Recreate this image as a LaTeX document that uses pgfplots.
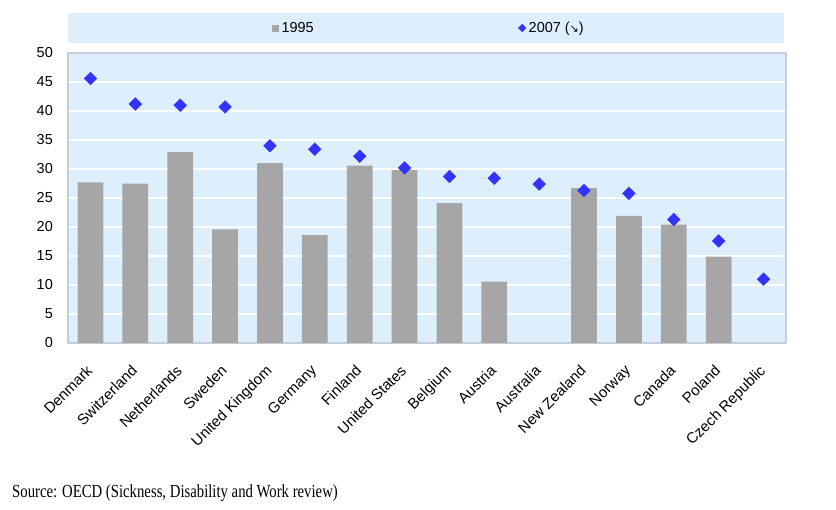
\documentclass[border=0pt]{standalone}
\usepackage{fontspec}
\setmainfont{Liberation Sans}
\newfontfamily\seriffont{Liberation Serif}
\newfontfamily\symfont{DejaVu Sans}
\usepackage{pgfplots}
\pgfplotsset{compat=1.18}
\definecolor{bg}{HTML}{DDEFFC}
\definecolor{bargray}{HTML}{A6A6A6}
\definecolor{diablue}{HTML}{3333FF}
\definecolor{axgray}{HTML}{C5CED8}
\begin{document}
\begin{tikzpicture}
\useasboundingbox (0bp,0bp) rectangle (836bp,-510bp);
\fill[bg] (68bp,-13bp) rectangle (784bp,-43bp);
\begin{axis}[
  at={(68bp,-343bp)}, anchor=south west,
  scale only axis, width=718bp, height=290bp,
  xmin=-0.5, xmax=15.5, ymin=0, ymax=50,
  ytick={0,5,...,50},
  xtick={0,...,15},
  xticklabels={Denmark,Switzerland,Netherlands,Sweden,United Kingdom,Germany,Finland,United States,Belgium,Austria,Australia,New Zealand,Norway,Canada,Poland,Czech Republic},
  axis background/.style={fill=bg},
  ymajorgrids, grid style={white, line width=1.5bp},
  axis line style={axgray, line width=1.5bp},
  tick style={draw=none},
  /pgf/number format/assume math mode=true,
  ticklabel style={font=\fontsize{14.5}{17}\selectfont},
  yticklabel style={inner sep=0pt, anchor=east, xshift=-15bp},
  xticklabel style={font=\fontsize{15}{18}\selectfont, xshift=-5bp, yshift=-21bp, rotate=45, anchor=north east, inner sep=0pt},
  legend columns=2,
  legend style={at={(0.284,1.086)}, anchor=west, draw=none, fill=none, inner xsep=0pt,
    font=\fontsize{14.5}{17}\selectfont,
    nodes={inner xsep=2.5bp},
    /tikz/every even column/.append style={column sep=202bp}},
]
\addplot[ybar, bar width=25.7bp, fill=bargray, draw=none,
  legend image code/.code={\fill[bargray] (0bp,-3.5bp) rectangle (7bp,3.5bp);}]
  coordinates {(0,27.7) (1,27.5) (2,32.9) (3,19.6) (4,31.0) (5,18.6) (6,30.6) (7,29.8) (8,24.1) (9,10.6) (11,26.7) (12,21.9) (13,20.4) (14,14.9)};
\addlegendentry{1995}
\addplot[only marks, mark=square*, mark size=4.5bp, mark options={rotate=45, fill=diablue, draw=diablue},
  legend image code/.code={\fill[diablue] (0bp,0bp) -- (3.8bp,3.8bp) -- (7.6bp,0bp) -- (3.8bp,-3.8bp) -- cycle;}]
  coordinates {(0,45.6) (1,41.2) (2,41.0) (3,40.7) (4,34.0) (5,33.4) (6,32.2) (7,30.2) (8,28.7) (9,28.4) (10,27.4) (11,26.3) (12,25.8) (13,21.3) (14,17.6) (15,11.0)};
\addlegendentry{2007 ({\symfont\fontsize{11}{13}\selectfont ↘})}
\end{axis}
\node[anchor=base west, inner sep=0pt, yscale=1.25, transform shape] at (12bp,-497bp) {\seriffont\fontsize{14.8}{17}\selectfont Source: OECD (Sickness, Disability and Work review)};
\end{tikzpicture}
\end{document}
